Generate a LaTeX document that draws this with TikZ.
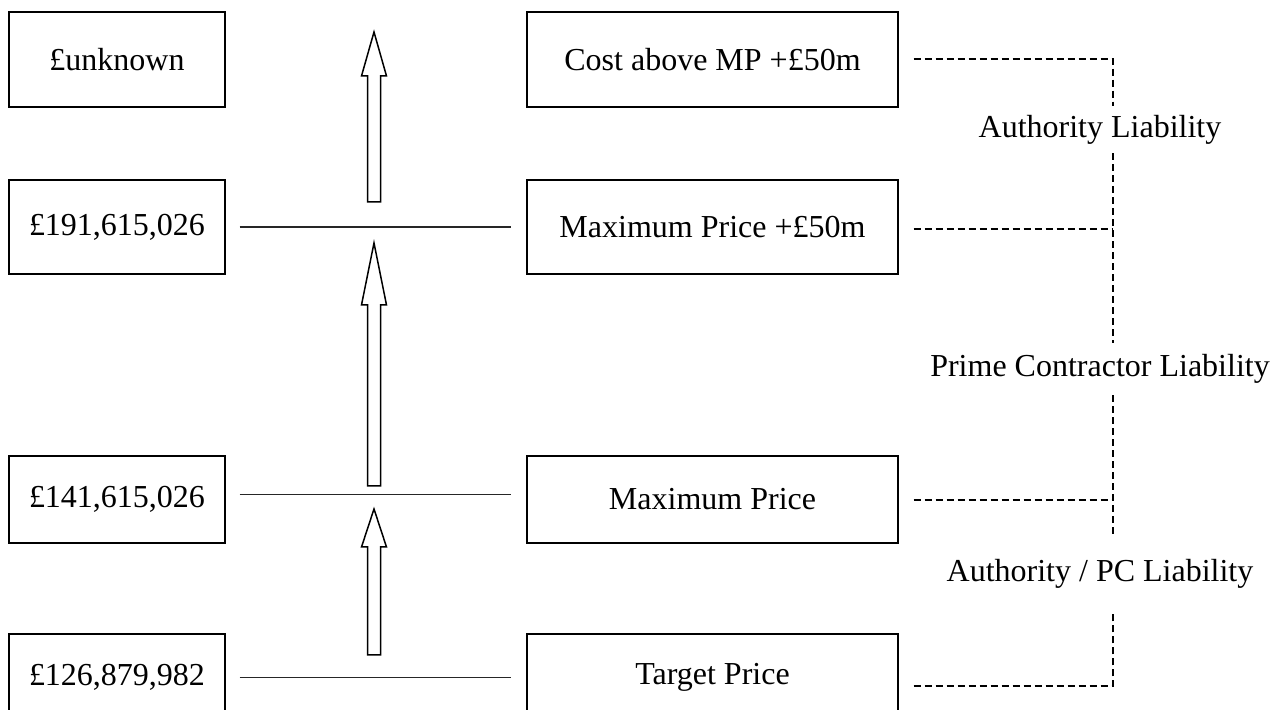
\documentclass[tikz,border=0pt]{standalone}
\usepackage{fontspec}
\setmainfont{Liberation Serif}

\tikzset{
  costbox/.style={draw, line width=0.7pt, minimum width=108pt, minimum height=47.5pt, inner sep=0pt},
  levelbox/.style={draw, line width=0.7pt, minimum width=185.5pt, minimum height=47.5pt, inner sep=0pt},
  rule/.style={line width=0.7pt, black!85, shorten <=7pt, shorten >=7.5pt},
  liab/.style={line width=0.7pt, dash pattern=on 3.5pt off 2pt},
  blockarrow/.style={line width=0.75pt, fill=white, line join=miter}
}

\begin{document}
\begin{tikzpicture}[x=0.5pt, y=-0.5pt]

  \fontsize{16pt}{19pt}\selectfont

  \newcommand\Lx{117};
  \newcommand\Rx{712.5};
  \newcommand\Vx{1113};
  \newcommand\Ax{374};

  \useasboundingbox (0,0) rectangle (1282,710);
  \clip (0,0) rectangle (1282,710);

  %% cost column
  \node[costbox] (l1) at (\Lx, 59.5) {£unknown};
  \node[costbox, minimum height=47pt] (l2) at (\Lx, 227) {£191,615,026};
  \node[costbox, minimum height=43.5pt] (l3) at (\Lx, 499.5) {£141,615,026};
  \node[costbox, minimum height=43.5pt] (l4) at (\Lx, 677.5) {£126,879,982};

  %% price levels
  \node[levelbox] (r1) at (\Rx, 59.5) {Cost above MP +£50m};
  \node[levelbox, minimum height=47pt] (r2) at (\Rx, 227) {Maximum Price +£50m};
  \node[levelbox, minimum height=43.5pt] (r3) at (\Rx, 499.5) {Maximum Price};
  \node[levelbox, minimum height=43.5pt] (r4) at (\Rx, 677.5) {Target Price};

  \draw[rule] (l2.east) -- (r2.west);
  \draw[rule] ([yshift=2.5pt]l3.east) -- ([yshift=2.5pt]r3.west);
  \draw[rule] (l4.east) -- (r4.west);

  %% hollow arrows: tip, head base, shaft bottom
  \newcommand\UpArrow[3]{%
    \draw[blockarrow] (\Ax-6.5, #3) -- (\Ax-6.5, #2) -- (\Ax-12.5, #2) -- (\Ax, #1)
      -- (\Ax+12.5, #2) -- (\Ax+6.5, #2) -- (\Ax+6.5, #3) -- cycle;}
  \UpArrow{32}{76}{202}
  \UpArrow{243}{305}{486}
  \UpArrow{509}{547}{655}

  %% liability bracket
  \coordinate (k1) at (\Vx, 59);
  \coordinate (k2) at (\Vx, 229);
  \coordinate (k3) at (\Vx, 500);
  \coordinate (k4) at (\Vx, 686);

  \node[inner sep=0pt, minimum height=23.5pt] (a1) at (1100, 129.5) {Authority Liability};
  \node[inner sep=0pt, minimum height=26pt] (a2) at (1100, 369) {Prime Contractor Liability};
  \node[inner sep=0pt, minimum height=36pt] (a3) at (1100, 574) {Authority / PC Liability};

  \draw[liab, shorten <=7.5pt] (r1.east |- k1) -- (k1) -- (k1 |- a1.north);
  \draw[liab, shorten <=7.5pt] (r2.east |- k2) -- (k2);
  \draw[liab, shorten <=7.5pt] (r3.east |- k3) -- (k3);
  \draw[liab, shorten <=7.5pt] (r4.east |- k4) -- (k4) -- (k4 |- a3.south);
  \draw[liab] (k1 |- a1.south) -- (k2) -- (k2 |- a2.north);
  \draw[liab] (k2 |- a2.south) -- (k3) -- (k3 |- a3.north);

\end{tikzpicture}
\end{document}
